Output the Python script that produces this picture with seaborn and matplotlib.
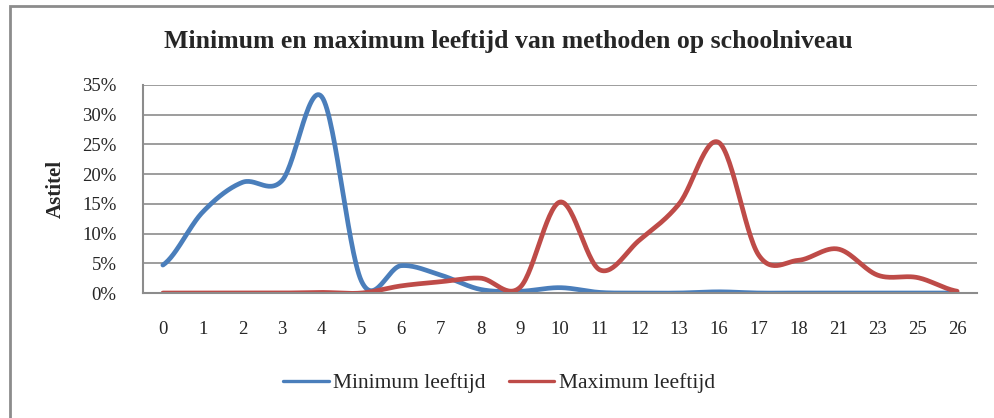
import numpy as np
import pandas as pd
import matplotlib
matplotlib.use("Agg")
import matplotlib.pyplot as plt
import seaborn as sns
from matplotlib.ticker import PercentFormatter
from matplotlib.patches import Rectangle
from matplotlib.lines import Line2D

# Data
categories = ["0", "1", "2", "3", "4", "5", "6", "7", "8", "9", "10", "11",
              "12", "13", "16", "17", "18", "21", "23", "25", "26"]
min_leeftijd = [0.047, 0.136, 0.186, 0.189, 0.330, 0.020, 0.046, 0.030, 0.006, 0.003, 0.009,
                0.001, 0.0, 0.0, 0.002, 0.0, 0.0, 0.0, 0.0, 0.0, 0.0]
max_leeftijd = [0.0, 0.0, 0.0, 0.0, 0.001, 0.0, 0.012, 0.019, 0.025, 0.010, 0.153,
                0.039, 0.089, 0.150, 0.253, 0.064, 0.055, 0.074, 0.030, 0.026, 0.003]

blue = "#4A7EBB"
red = "#BE4B48"
grid_grey = "#8C8C8C"


def smooth(values, n=30):
    # Catmull-Rom curve through the points, like a "smoothed line" in a spreadsheet
    y = np.asarray(values, dtype=float)
    x = np.arange(len(y), dtype=float)
    px = np.concatenate([[2 * x[0] - x[1]], x, [2 * x[-1] - x[-2]]])
    py = np.concatenate([[y[0]], y, [y[-1]]])
    xs, ys = [], []
    for i in range(1, len(px) - 2):
        t = np.linspace(0, 1, n, endpoint=False)
        for arr, out in ((px, xs), (py, ys)):
            p0, p1, p2, p3 = arr[i - 1], arr[i], arr[i + 1], arr[i + 2]
            out.append(0.5 * (2 * p1 + (-p0 + p2) * t
                              + (2 * p0 - 5 * p1 + 4 * p2 - p3) * t ** 2
                              + (-p0 + 3 * p1 - 3 * p2 + p3) * t ** 3))
    xs.append([x[-1]])
    ys.append([y[-1]])
    return np.concatenate(xs), np.concatenate(ys)


sns.set_style("white")
plt.rcParams["font.family"] = ["Liberation Serif", "DejaVu Serif"]

fig = plt.figure(figsize=(9.94, 4.18), dpi=100)
ax = fig.add_axes([0.1439, 0.299, 0.839, 0.498])

for vals, col, name in ((min_leeftijd, blue, "Minimum leeftijd"),
                        (max_leeftijd, red, "Maximum leeftijd")):
    sx, sy = smooth(vals)
    sns.lineplot(x=sx, y=sy, ax=ax, color=col, linewidth=3.4, sort=False,
                 estimator=None, label=name, legend=False)

ax.set_xlim(-0.5, len(categories) - 0.5)
ax.set_ylim(0, 0.35)
ax.set_yticks(np.arange(0, 0.351, 0.05))
ax.yaxis.set_major_formatter(PercentFormatter(1.0, decimals=0))
ax.set_xticks(range(len(categories)))
ax.set_xticklabels(categories)
ax.tick_params(axis="x", length=0, pad=20, labelsize=13.5)
ax.tick_params(axis="y", length=3, color=grid_grey, pad=16, labelsize=13.5)
ax.grid(axis="y", color=grid_grey, linewidth=1.2)
ax.set_axisbelow(True)
for side in ("top", "right"):
    ax.spines[side].set_visible(False)
for side in ("left", "bottom"):
    ax.spines[side].set_color(grid_grey)
    ax.spines[side].set_linewidth(1.5)

ax.set_ylabel("Astitel", fontsize=15, fontweight="bold", labelpad=12)
fig.text(0.511, 0.90, "Minimum en maximum leeftijd van methoden op schoolniveau",
         ha="center", va="center", fontsize=18.5, fontweight="bold")

handles = [Line2D([], [], color=blue, lw=2.4), Line2D([], [], color=red, lw=2.4)]
fig.legend(handles, ["Minimum leeftijd", "Maximum leeftijd"], loc="center",
           bbox_to_anchor=(0.502, 0.083), ncol=2, frameon=False, fontsize=15.5,
           handlelength=2.1, handletextpad=0.2, columnspacing=1.1)

# outer chart border (cut off at right and bottom like the reference)
fig.patches.append(Rectangle((10 / 994, -0.1), 1.2, 0.1 + (418 - 6) / 418,
                             transform=fig.transFigure, fill=False,
                             edgecolor="#8C8C8C", linewidth=2))

fig.savefig("out.png", dpi=100)
